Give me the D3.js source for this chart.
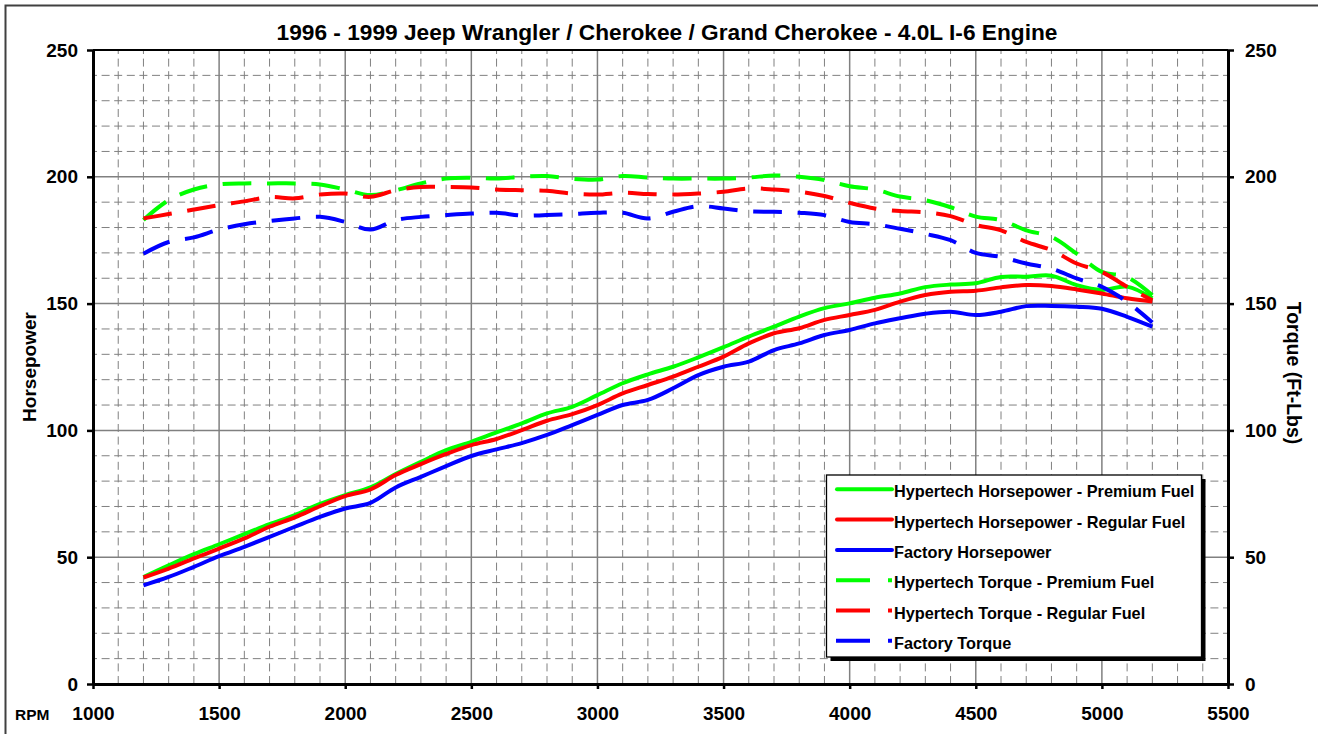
<!DOCTYPE html>
<html>
<head>
<meta charset="utf-8">
<script src="https://cdn.jsdelivr.net/npm/d3@7"></script>
<style>
  html, body { margin: 0; padding: 0; background: #fff; }
  svg { display: block; }
  text { font-family: "Liberation Sans", Arial, sans-serif; font-weight: bold; fill: #000; }
</style>
</head>
<body>
<svg id="chart" width="1318" height="734"></svg>
<script>
const rpm = [1200,1300,1400,1500,1600,1700,1800,1900,2000,2100,2200,2300,2400,2500,2600,2700,2800,2900,3000,3100,3200,3300,3400,3500,3600,3700,3800,3900,4000,4100,4200,4300,4400,4500,4600,4700,4800,4900,5000,5100,5200];

const hpPremium = [42.2,46.8,51.2,55.1,59.1,63.0,66.6,71.0,74.5,77.5,82.8,87.6,92.2,95.5,99.2,102.8,106.7,109.3,113.9,118.6,122.1,125.1,128.8,132.8,137.0,140.9,144.9,148.2,150.1,152.3,154.0,156.5,157.5,158.0,160.5,160.6,161.0,157.3,155.4,156.7,152.1];
const hpRegular = [42.0,45.5,49.5,53.4,57.4,62.0,65.7,70.1,74.1,76.7,82.4,86.7,90.7,94.2,96.6,100.1,103.8,106.4,110.0,114.6,117.9,121.2,125.1,129.1,134.3,138.3,140.3,143.6,145.5,147.5,150.8,153.4,154.7,155.1,156.4,157.3,156.9,155.6,154.0,152.1,150.8];
const hpFactory = [38.9,42.2,46.2,50.4,54.1,58.0,62.0,65.9,69.2,71.4,77.5,81.7,85.9,89.9,92.5,95.0,98.2,102.1,106.1,110.0,112.0,116.6,121.8,125.1,127.1,131.7,134.3,137.6,139.6,142.2,144.2,146.0,146.8,145.5,146.8,149.0,149.1,148.8,148.0,144.8,140.9];

const tqPremium = [183.0,190.8,195.0,197.0,197.4,197.4,197.4,197.0,195.0,192.8,194.7,197.4,199.3,199.6,199.3,200.0,200.3,199.2,198.9,200.3,199.7,199.3,199.3,199.3,199.7,200.5,200.0,198.7,196.3,195.0,192.2,190.8,188.0,184.3,182.9,178.9,176.3,169.7,162.5,160.5,153.3];
const tqRegular = [183.6,185.3,187.1,188.8,190.3,192.0,191.5,193.0,193.4,192.1,194.7,196.0,196.0,195.8,195.0,194.7,194.5,193.4,193.0,193.7,193.2,193.0,193.4,194.1,195.4,195.0,194.1,192.4,189.7,187.5,186.5,186.0,184.5,181.0,178.9,174.3,171.1,165.8,162.5,156.6,151.3];
const tqFactory = [169.7,174.3,176.1,179.2,181.3,182.6,183.6,184.2,182.2,179.2,182.9,184.2,184.9,185.5,185.8,184.7,184.9,185.3,185.8,185.8,183.6,186.2,188.4,187.5,186.4,186.2,185.8,184.9,182.2,181.3,179.5,177.5,175.0,170.0,168.4,165.8,163.8,159.9,156.6,150.7,142.5];

const xTicks = [1000,1500,2000,2500,3000,3500,4000,4500,5000,5500];
const yTicks = [0,50,100,150,200,250];
const xMinor = d3.range(1100, 5500, 100).filter(v => v % 500 !== 0);
const yMinor = d3.range(10, 250, 10).filter(v => v % 50 !== 0);

const titleText = "1996 - 1999 Jeep Wrangler / Cherokee / Grand Cherokee - 4.0L I-6 Engine";
const leftLabel = "Horsepower";
const rightLabel = "Torque (Ft-Lbs)";
const xLabel = "RPM";

const series = [
  { name: "Hypertech Horsepower - Premium Fuel", values: hpPremium, color: "#00ff00", dashed: false },
  { name: "Hypertech Horsepower - Regular Fuel", values: hpRegular, color: "#ff0000", dashed: false },
  { name: "Factory Horsepower", values: hpFactory, color: "#0000ff", dashed: false },
  { name: "Hypertech Torque - Premium Fuel", values: tqPremium, color: "#00ff00", dashed: true },
  { name: "Hypertech Torque - Regular Fuel", values: tqRegular, color: "#ff0000", dashed: true },
  { name: "Factory Torque", values: tqFactory, color: "#0000ff", dashed: true }
];

const X0 = 93, X1 = 1228, Y0 = 50, Y1 = 684;
const svg = d3.select("#chart");
const x = d3.scaleLinear().domain([1000, 5500]).range([X0, X1]);
const y = d3.scaleLinear().domain([0, 250]).range([Y1, Y0]);
const yR = d3.scaleLinear().domain([0, 250]).range([Y1, Y0]);

svg.append("rect").attr("width", 1318).attr("height", 734).attr("fill", "#fff");
// outer frame
svg.append("rect").attr("x", 5.5).attr("y", 5.5).attr("width", 1330).attr("height", 750)
  .attr("fill", "none").attr("stroke", "#404040").attr("stroke-width", 2);

// grid
const grid = svg.append("g");
grid.selectAll(".vminor").data(xMinor).enter().append("line")
  .attr("x1", d => x(d)).attr("x2", d => x(d)).attr("y1", Y0).attr("y2", Y1)
  .attr("stroke", "#808080").attr("stroke-width", 1).attr("stroke-dasharray", "8,4.6").attr("stroke-dashoffset", 4);
grid.selectAll(".hminor").data(yMinor).enter().append("line")
  .attr("y1", d => y(d)).attr("y2", d => y(d)).attr("x1", X0).attr("x2", X1)
  .attr("stroke", "#808080").attr("stroke-width", 1).attr("stroke-dasharray", "8,4.6").attr("stroke-dashoffset", 4);
grid.selectAll(".vmajor").data(xTicks.slice(1, -1)).enter().append("line")
  .attr("x1", d => x(d)).attr("x2", d => x(d)).attr("y1", Y0).attr("y2", Y1)
  .attr("stroke", "#808080").attr("stroke-width", 1.5);
grid.selectAll(".hmajor").data(yTicks.slice(1, -1)).enter().append("line")
  .attr("y1", d => y(d)).attr("y2", d => y(d)).attr("x1", X0).attr("x2", X1)
  .attr("stroke", "#808080").attr("stroke-width", 1.5);

// lines
const line = d3.line().x(d => x(d[0])).y(d => y(d[1])).curve(d3.curveCatmullRom.alpha(0.5));
series.forEach(s => {
  svg.append("path")
    .datum(rpm.map((r, i) => [r, s.values[i]]))
    .attr("d", line)
    .attr("fill", "none")
    .attr("stroke", s.color)
    .attr("stroke-width", 4)
    .attr("stroke-dasharray", s.dashed ? "28.7,15.7" : null);
});

// top border
svg.append("line").attr("x1", X0).attr("x2", X1).attr("y1", Y0).attr("y2", Y0)
  .attr("stroke", "#000").attr("stroke-width", 2);

// axes
function styleAxis(g) {
  g.select(".domain").attr("stroke", "#000").attr("stroke-width", 3);
  g.selectAll(".tick line").attr("stroke", "#000").attr("stroke-width", 2.5);
  g.selectAll(".tick text").attr("font-size", 19).attr("font-family", "'Liberation Sans', Arial, sans-serif").attr("font-weight", "bold").attr("fill", "#000");
}
const gL = svg.append("g").attr("transform", `translate(${X0},0)`)
  .call(d3.axisLeft(y).tickValues(yTicks).tickSize(6).tickSizeOuter(0).tickPadding(9));
styleAxis(gL);
const gR = svg.append("g").attr("transform", `translate(${X1},0)`)
  .call(d3.axisRight(yR).tickValues(yTicks).tickSize(6).tickSizeOuter(0).tickPadding(11));
styleAxis(gR);
const gB = svg.append("g").attr("transform", `translate(0,${Y1})`)
  .call(d3.axisBottom(x).tickValues(xTicks).tickSize(5).tickSizeOuter(0).tickFormat(d3.format("d")));
styleAxis(gB);
gB.selectAll(".tick text").attr("dy", null).attr("y", 35.5);

// title and labels
svg.append("text").attr("x", 667).attr("y", 39.5).attr("text-anchor", "middle")
  .attr("font-size", 22.7).text(titleText);
svg.append("text").attr("transform", "translate(35.5,367) rotate(-90)").attr("text-anchor", "middle")
  .attr("font-size", 19).text(leftLabel);
svg.append("text").attr("transform", "translate(1287,373) rotate(90)").attr("text-anchor", "middle")
  .attr("font-size", 19.5).text(rightLabel);
svg.append("text").attr("x", 15).attr("y", 720).attr("font-size", 15.5).text(xLabel);

// legend
const lg = svg.append("g");
lg.append("rect").attr("x", 830.5).attr("y", 479).attr("width", 375).attr("height", 182).attr("fill", "#000");
lg.append("rect").attr("x", 826.5).attr("y", 475).attr("width", 375).attr("height", 182)
  .attr("fill", "#fff").attr("stroke", "#000").attr("stroke-width", 1.3);
series.forEach((s, i) => {
  const ly = 489.3 + i * 30.3;
  lg.append("line").attr("x1", s.dashed ? 836 : 837).attr("x2", 892).attr("y1", ly).attr("y2", ly)
    .attr("stroke", s.color).attr("stroke-width", 4)
    .attr("stroke-linecap", s.dashed ? "butt" : "round")
    .attr("stroke-dasharray", s.dashed ? "34,18" : null);
  lg.append("text").attr("x", 894).attr("y", ly + 8).attr("font-size", 16.3).text(s.name);
});
</script>
</body>
</html>
